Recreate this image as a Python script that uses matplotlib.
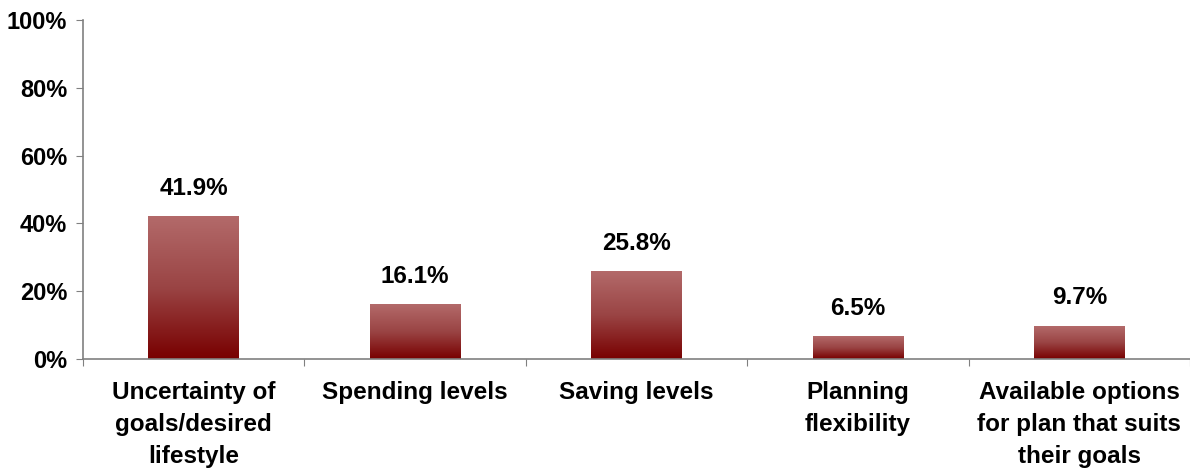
import matplotlib
matplotlib.use("Agg")
import matplotlib.pyplot as plt
import numpy as np
from matplotlib.colors import LinearSegmentedColormap

categories = ["Uncertainty of\ngoals/desired\nlifestyle", "Spending levels", "Saving levels",
              "Planning\nflexibility", "Available options\nfor plan that suits\ntheir goals"]
values = [41.9, 16.1, 25.8, 6.5, 9.7]
labels = ["41.9%", "16.1%", "25.8%", "6.5%", "9.7%"]
yticks = [0, 20, 40, 60, 80, 100]
yticklabels = ["0%", "20%", "40%", "60%", "80%", "100%"]

plt.rcParams['font.family'] = ['Liberation Sans', 'DejaVu Sans']
plt.rcParams['font.weight'] = 'bold'
FS = 17.5

fig = plt.figure(figsize=(11.9, 4.7), dpi=100)
ax = fig.add_axes([83/1190, 1-359/470, 1-83/1190, (359-20)/470])

n = len(categories)
x = np.arange(n)
width = 0.41
cmap = LinearSegmentedColormap.from_list("g", ["#780000", "#9a4444", "#b36a6a"])
grad = np.linspace(0, 1, 256).reshape(-1, 1)

bars = ax.bar(x, values, width=width, color="none", edgecolor="none")
for b in bars:
    x0 = b.get_x(); h = b.get_height()
    ax.imshow(grad, cmap=cmap, origin="lower", aspect="auto",
              extent=[x0, x0 + b.get_width(), 0, h], zorder=2)

for xi, v, lab in zip(x, values, labels):
    ax.annotate(lab, (xi, v), xytext=(0, 12), textcoords="offset points",
                ha="center", va="bottom", fontsize=FS, fontweight="bold")

ax.set_xlim(-0.5, n - 0.5)
ax.set_ylim(0, 100)
ax.set_yticks(yticks)
ax.set_yticklabels(yticklabels, fontsize=FS - 0.5, fontweight="bold")
ax.set_xticks(np.arange(n + 1) - 0.5)
ax.set_xticklabels([])
ax.set_xticks(x, minor=True)
ax.set_xticklabels(categories, minor=True, fontsize=FS, fontweight="bold", linespacing=1.5)
ax.tick_params(axis="x", which="minor", length=0, pad=16)
ax.tick_params(axis="x", which="major", length=5, color="#808080", direction="out")
ax.tick_params(axis="y", length=5, color="#808080", direction="out", pad=6.5)
for lab in ax.get_xticklabels(minor=True):
    lab.set_va("top")

for s in ["top", "right"]:
    ax.spines[s].set_visible(False)
for s in ["left", "bottom"]:
    ax.spines[s].set_color("#808080")
    ax.spines[s].set_linewidth(1.2)

fig.savefig("out.png", dpi=100)
